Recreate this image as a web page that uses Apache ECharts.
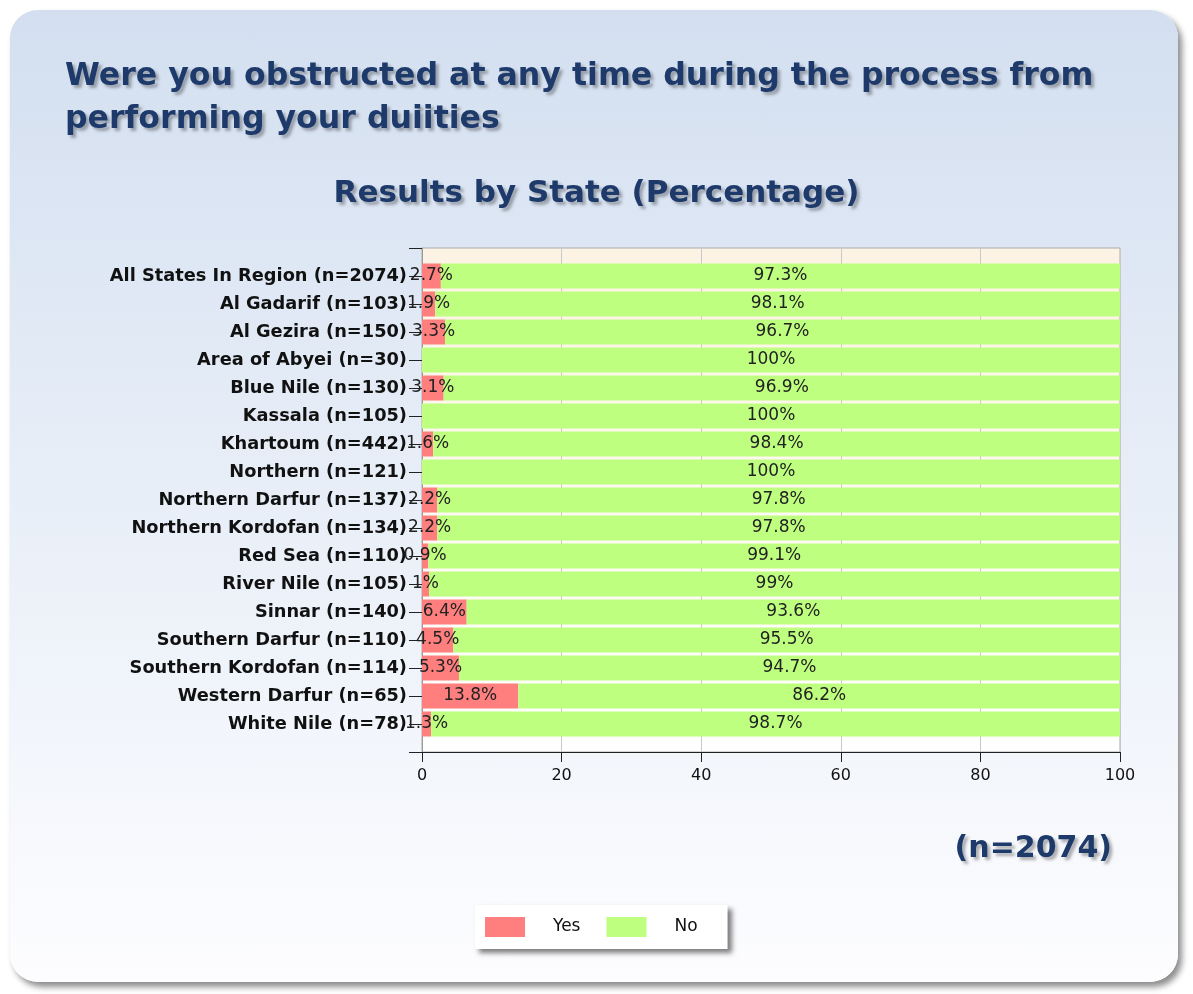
<!DOCTYPE html>
<html>
<head>
<meta charset="utf-8">
<script src="https://cdn.jsdelivr.net/npm/echarts@6/dist/echarts.min.js"></script>
<style>
  html, body { margin: 0; padding: 0; background: #fff; }
  #card {
    position: absolute; left: 10px; top: 10px; width: 1168px; height: 972px;
    border-radius: 28px;
    background: linear-gradient(to bottom, #d3dff0 0%, #e6edf7 45%, #fdfdff 100%);
    box-shadow: 4px 5px 6px rgba(0,0,0,0.45);
  }
  #chart { position: absolute; left: 0; top: 0; width: 1193px; height: 994px; }
</style>
</head>
<body>
<div id="card"></div>
<div id="chart"></div>
<script>
// states, top to bottom
const states = [
    'All States In Region (n=2074)',
    'Al Gadarif (n=103)',
    'Al Gezira (n=150)',
    'Area of Abyei (n=30)',
    'Blue Nile (n=130)',
    'Kassala (n=105)',
    'Khartoum (n=442)',
    'Northern (n=121)',
    'Northern Darfur (n=137)',
    'Northern Kordofan (n=134)',
    'Red Sea (n=110)',
    'River Nile (n=105)',
    'Sinnar (n=140)',
    'Southern Darfur (n=110)',
    'Southern Kordofan (n=114)',
    'Western Darfur (n=65)',
    'White Nile (n=78)'
];
const yesValues = [2.7, 1.9, 3.3, 0, 3.1, 0, 1.6, 0, 2.2, 2.2, 0.9, 1, 6.4, 4.5, 5.3, 13.8, 1.3];
const noValues = [97.3, 98.1, 96.7, 100, 96.9, 100, 98.4, 100, 97.8, 97.8, 99.1, 99, 93.6, 95.5, 94.7, 86.2, 98.7];
const xTicks = [0, 20, 40, 60, 80, 100];

const FONT = 'DejaVu Sans';
const navy = '#1d3a6b';

// empty slots at both ends so ticks sit between the bars like the original
const cats = [''].concat(states, ['']);
const yesData = [null].concat(yesValues, [null]);
const noData = [null].concat(noValues, [null]);

const chart = echarts.init(document.getElementById('chart'));

const valueLabel = {
    show: true,
    position: 'inside',
    color: '#222',
    fontFamily: FONT,
    fontSize: 17,
    textBorderWidth: 0,
    formatter: p => (p.value ? p.value + '%' : '')
};

const shadow = {
    textShadowColor: 'rgba(0,0,0,0.3)', textShadowBlur: 3, textShadowOffsetX: 3, textShadowOffsetY: 3
};

const option = {
    backgroundColor: 'transparent',
    animation: false,
    title: [
        {
            text: 'Were you obstructed at any time during the process from\nperforming your duiities',
            left: 60, top: 50,
            textStyle: Object.assign({
                fontFamily: FONT, fontSize: 31.6, fontWeight: 'bold', color: navy, lineHeight: 43
            }, shadow)
        },
        {
            text: 'Results by State (Percentage)',
            left: 'center', top: 173,
            textStyle: Object.assign({
                fontFamily: FONT, fontSize: 31, fontWeight: 'bold', color: navy
            }, shadow)
        },
        {
            text: '(n=2074)',
            right: 76, top: 829,
            textStyle: Object.assign({
                fontFamily: FONT, fontSize: 30, fontWeight: 'bold', color: navy
            }, shadow)
        }
    ],
    legend: {
        data: ['Yes', 'No'],
        icon: 'rect',
        left: 475, top: 905,
        itemWidth: 40, itemHeight: 20, itemGap: 26,
        padding: [12, 30, 12, 10],
        backgroundColor: '#fff',
        shadowColor: 'rgba(0,0,0,0.5)', shadowBlur: 5, shadowOffsetX: 4, shadowOffsetY: 4,
        textStyle: { fontFamily: FONT, fontSize: 17, color: '#111', padding: [0, 10, 0, 23] }
    },
    grid: {
        left: 422, top: 248, width: 698, height: 504,
        show: true,
        borderColor: '#aaa', borderWidth: 1,
        backgroundColor: new echarts.graphic.LinearGradient(0, 0, 0, 1, [
            { offset: 0, color: '#fdf3e4' },
            { offset: 1, color: '#ffffff' }
        ])
    },
    xAxis: {
        type: 'value', min: 0, max: 100, interval: 20,
        data: xTicks,
        axisLine: { show: true, lineStyle: { color: '#222', width: 1 } },
        axisTick: { show: true, length: 10, lineStyle: { color: '#222' } },
        axisLabel: { fontFamily: FONT, fontSize: 16, color: '#111', margin: 16 },
        splitLine: { show: true, lineStyle: { color: '#c8c8c8' } }
    },
    yAxis: {
        type: 'category', inverse: true, boundaryGap: false,
        data: cats,
        axisLine: { show: true, lineStyle: { color: '#999' } },
        axisTick: { show: true, length: 13, interval: 0, lineStyle: { color: '#222' } },
        axisLabel: { fontFamily: FONT, fontSize: 17.8, fontWeight: 'bold', color: '#111', margin: 15, interval: 0 },
        splitLine: { show: false }
    },
    series: [
        {
            name: 'Yes', type: 'bar', stack: 'total',
            data: yesData, barWidth: 25,
            itemStyle: { color: '#ff7f7f' },
            label: valueLabel
        },
        {
            name: 'No', type: 'bar', stack: 'total',
            data: noData, barWidth: 25,
            itemStyle: { color: '#bfff7f' },
            label: valueLabel
        }
    ]
};

chart.setOption(option);
</script>
</body>
</html>
